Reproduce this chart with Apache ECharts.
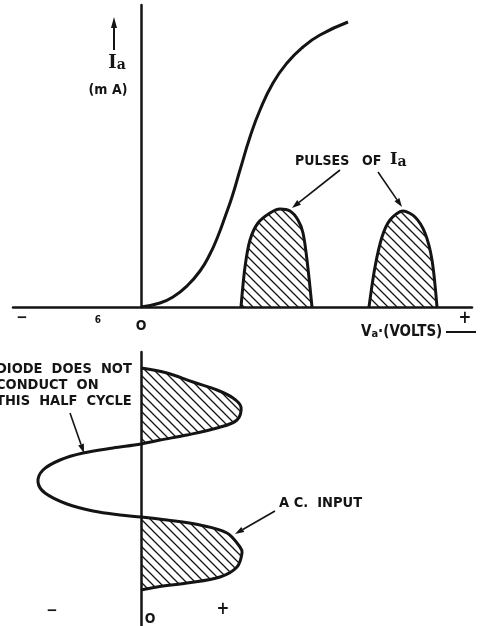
<!DOCTYPE html>
<html><head><meta charset="utf-8">
<script src="https://cdn.jsdelivr.net/npm/echarts@6/dist/echarts.min.js"></script>
<style>html,body{margin:0;padding:0;background:#fff}#c{width:482px;height:626px}</style>
</head><body><div id="c"></div>
<script>
// Characteristic curve Ia vs Va (arbitrary units)
const charVa = [0, 19, 32, 46, 59, 69, 77, 84, 91, 99, 109, 119, 132, 146, 162, 179, 207];
const charIa = [0, 4, 10, 21, 36, 53, 71, 90, 110, 137, 170, 197, 224, 244, 260, 272, 285];
// Pulses of Ia
const pulse1Va = [100, 104, 109, 117, 129, 139, 149, 157, 162, 166, 171];
const pulse1Ia = [0, 40, 67, 84, 94, 98, 96, 87, 74, 47, 0];
const pulse2Va = [228, 234, 241, 249, 262, 274, 284, 291, 296];
const pulse2Ia = [0, 40, 70, 87, 96, 90, 74, 47, 0];
// A.C. input (time runs downward)
const acTime = [16, 21, 30, 38, 46, 55, 68, 76, 83, 88, 92, 96, 101, 108, 118, 130, 141, 152, 159, 163, 165, 168, 173, 181, 195, 201, 215, 225, 231, 235, 238];
const acVolts = [0, 26, 52, 76, 92, 100, 96, 76, 46, 19, 0, -28, -58, -81, -98, -103, -96, -74, -48, -21, 0, 26, 59, 86, 99, 101, 96, 79, 46, 16, 0];
const lobe1 = [0, 10];
const lobe2 = [20, 30];

const INK = '#141414';
function hatch(step, lw) {
  const c = document.createElement('canvas');
  c.width = step; c.height = step;
  const g = c.getContext('2d');
  g.strokeStyle = INK; g.lineWidth = lw; g.lineCap = 'square';
  g.beginPath();
  g.moveTo(-2, -2); g.lineTo(step + 2, step + 2);
  g.moveTo(-2, step - 2); g.lineTo(2, step + 2);
  g.moveTo(step - 2, -2); g.lineTo(step + 2, 2);
  g.stroke();
  return c;
}
const hatchPat = { image: hatch(9, 1.3), repeat: 'repeat' };
const zip = (a, b) => a.map((v, i) => [v, b[i]]);

const FONT = "'DejaVu Sans Condensed','Liberation Sans Narrow',sans-serif";
function txt(x, y, text, size, extra) {
  return { type: 'text', style: Object.assign({ x, y, text, fill: INK,
    font: 'bold ' + size + 'px ' + FONT, textAlign: 'left', textVerticalAlign: 'middle' }, extra || {}) };
}
function ia(x, y, iSize, aSize, align) {
  return { type: 'text', style: { x, y, text: '{i|I}{a|a}', textAlign: align || 'left', textVerticalAlign: 'middle',
    rich: { i: { font: 'bold ' + iSize + 'px "DejaVu Serif",serif', fill: INK },
            a: { font: 'bold ' + aSize + 'px "DejaVu Serif",serif', fill: INK, padding: [4, 0, 0, 0] } } } };
}
function arrow(x1, y1, x2, y2, lw, hl, hw) {
  const a = Math.atan2(y2 - y1, x2 - x1);
  const bx = x2 - hl * Math.cos(a), by = y2 - hl * Math.sin(a);
  const px = -Math.sin(a) * hw, py = Math.cos(a) * hw;
  return [
    { type: 'line', shape: { x1, y1, x2: bx, y2: by }, style: { stroke: INK, lineWidth: lw } },
    { type: 'polygon', shape: { points: [[x2, y2], [bx + px, by + py], [bx - px, by - py]] }, style: { fill: INK } }
  ];
}

const chart = echarts.init(document.getElementById('c'), null, { renderer: 'canvas' });
const axisCommon = {
  type: 'value', axisTick: { show: false }, axisLabel: { show: false }, splitLine: { show: false }
};
const lineStyle = { color: INK, width: 3 };
chart.setOption({
  backgroundColor: '#fff',
  animation: false,
  grid: [
    { left: 13, right: 10, top: 5, bottom: 319 },
    { left: 13, right: 10, top: 352, bottom: 0 }
  ],
  xAxis: [
    Object.assign({}, axisCommon, { gridIndex: 0, min: -128, max: 331,
      axisLine: { show: true, onZero: true, lineStyle: { color: INK, width: 2.5 } } }),
    Object.assign({}, axisCommon, { gridIndex: 1, min: -128, max: 331, show: false })
  ],
  yAxis: [
    Object.assign({}, axisCommon, { gridIndex: 0, min: 0, max: 302,
      axisLine: { show: true, onZero: true, lineStyle: { color: INK, width: 2.5 } } }),
    Object.assign({}, axisCommon, { gridIndex: 1, min: 0, max: 274, inverse: true,
      axisLine: { show: true, onZero: true, lineStyle: { color: INK, width: 2.5 } } })
  ],
  series: [
    { type: 'line', xAxisIndex: 0, yAxisIndex: 0, data: zip(charVa, charIa), showSymbol: false,
      smooth: 0.5, lineStyle },
    { type: 'line', xAxisIndex: 0, yAxisIndex: 0, data: zip(pulse1Va, pulse1Ia), showSymbol: false,
      smooth: 0.3, lineStyle, areaStyle: { color: hatchPat, opacity: 1 } },
    { type: 'line', xAxisIndex: 0, yAxisIndex: 0, data: zip(pulse2Va, pulse2Ia), showSymbol: false,
      smooth: 0.3, lineStyle, areaStyle: { color: hatchPat, opacity: 1 } },
    { type: 'custom', xAxisIndex: 1, yAxisIndex: 1, clip: false,
      data: zip(acVolts, acTime), encode: { x: 0, y: 1 },
      renderItem: function (params, api) {
        if (params.dataIndex !== 0) return null;
        const pts = acVolts.map((v, i) => api.coord([v, acTime[i]]));
        const fills = [lobe1, lobe2].map(l => ({
          type: 'polygon', shape: { points: pts.slice(l[0], l[1] + 1), smooth: 0 },
          style: { fill: hatchPat, stroke: null }
        }));
        return { type: 'group', children: fills.concat([
          { type: 'polyline', shape: { points: pts, smooth: 0.35 },
            style: { stroke: INK, lineWidth: 3, fill: null } }
        ]) };
      }
    }
  ],
  graphic: [].concat(
    arrow(114, 50, 114, 17, 2, 11, 3),
    [
      ia(117, 63, 18, 14, 'center'),
      txt(108, 90, '(m A)', 14, { textAlign: 'center' }),
      txt(295, 161, 'PULSES', 14),
      txt(362, 161, 'OF', 14),
      ia(390, 160, 16, 14)
    ],
    arrow(340, 170, 292, 208, 1.6, 9, 3),
    arrow(378, 172, 402, 207, 1.6, 9, 3),
    [
      txt(22, 318, '−', 15, { textAlign: 'center' }),
      txt(98, 320, '6', 10, { textAlign: 'center' }),
      txt(141, 326, 'O', 14, { textAlign: 'center' }),
      { type: 'text', style: { x: 361, y: 332, text: '{v|V}{a|a}·(VOLTS)', textVerticalAlign: 'middle',
        font: 'bold 15px ' + FONT, fill: INK,
        rich: { v: { font: 'bold 15px ' + FONT, fill: INK }, a: { font: 'bold 11px ' + FONT, fill: INK, padding: [4, 0, 0, 0] } } } },
      txt(465, 319, '+', 17, { textAlign: 'center' }),
      { type: 'line', shape: { x1: 446, y1: 332, x2: 476, y2: 332 }, style: { stroke: INK, lineWidth: 2 } },
      txt(-4, 369, 'DIODE  DOES  NOT', 14.5),
      txt(-4, 385, 'CONDUCT  ON', 14.5),
      txt(-4, 401, 'THIS  HALF  CYCLE', 14.5)
    ],
    arrow(70, 413, 84, 453, 1.6, 9, 3),
    [ txt(279, 503, 'A C.  INPUT', 14.5) ],
    arrow(275, 511, 235, 534, 1.6, 9, 3),
    [
      txt(52, 611, '−', 15, { textAlign: 'center' }),
      txt(150, 619, 'O', 14, { textAlign: 'center' }),
      txt(223, 610, '+', 17, { textAlign: 'center' })
    ]
  )
});
</script>
</body></html>
